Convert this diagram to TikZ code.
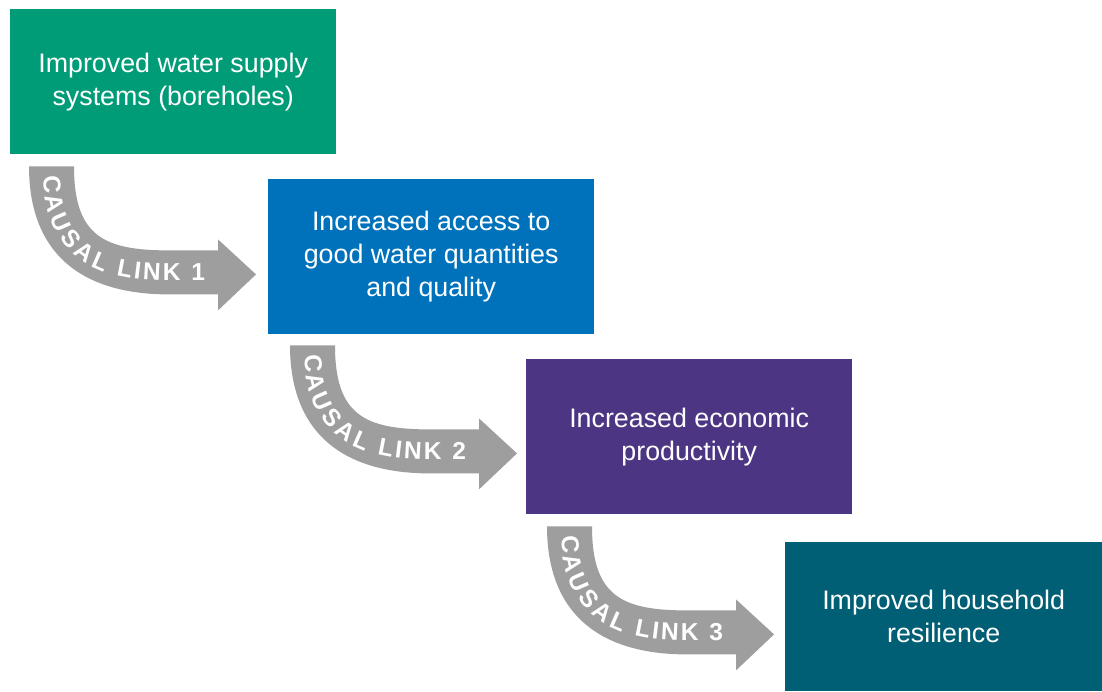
\documentclass[tikz,border=0pt]{standalone}
\usepackage{fontspec}
\setmainfont{Liberation Sans}
\usetikzlibrary{decorations.text}
\definecolor{cgreen}{RGB}{0,155,119}
\definecolor{cblue}{RGB}{0,114,188}
\definecolor{cpurple}{RGB}{76,54,132}
\definecolor{cteal}{RGB}{0,95,116}
\definecolor{cgray}{RGB}{158,158,158}
\newcommand\linkfont{\color{white}\bfseries\fontsize{24.5}{24.5}\selectfont}
\newcommand\causalarrow[2]{%
  \begin{scope}[shift={(#1)}]
    \fill[cgray] (0,0) .. controls (0,85) and (50,128) .. (140,128) -- (189,128)
      -- (189,144) -- (227,108) -- (189,73) -- (189,84) -- (140,84)
      .. controls (75,84) and (45,70) .. (45,0) -- cycle;
    \path[decorate, decoration={text along path,
        text={|\linkfont|#2},
        text align={left indent=9pt, right indent=13pt, fit to path},
        raise=-8.5pt}]
      (22.5,0) .. controls (22.5,80) and (62,106) .. (140,106) -- (189,106);
  \end{scope}}
\begin{document}
\begin{tikzpicture}[x=1pt,y=-1pt,
  box/.style={anchor=north west, text=white, align=center, inner sep=0pt,
    font=\fontsize{26.8}{33}\selectfont}]
\useasboundingbox (0,0) rectangle (1102,691);
\fill[white] (0,0) rectangle (1102,691);
\node[box, fill=cgreen, minimum width=326pt, minimum height=145pt] (b1) at (10,9)
  {Improved water supply\\systems (boreholes)};
\node[box, fill=cblue, minimum width=326pt, minimum height=155pt] (b2) at (268,179)
  {Increased access to\\good water quantities\\and quality};
\node[box, fill=cpurple, minimum width=326pt, minimum height=155pt] (b3) at (526,359)
  {Increased economic\\productivity};
\node[box, fill=cteal, minimum width=317pt, minimum height=149pt] (b4) at (785,542)
  {Improved household\\resilience};
\coordinate (a1) at ([shift={(19,12)}]b1.south west);
\coordinate (a2) at ([shift={(22,11)}]b2.south west);
\coordinate (a3) at ([shift={(21,12)}]b3.south west);
\causalarrow{a1}{CAUSAL LINK 1}
\causalarrow{a2}{CAUSAL LINK 2}
\causalarrow{a3}{CAUSAL LINK 3}
\end{tikzpicture}
\end{document}
